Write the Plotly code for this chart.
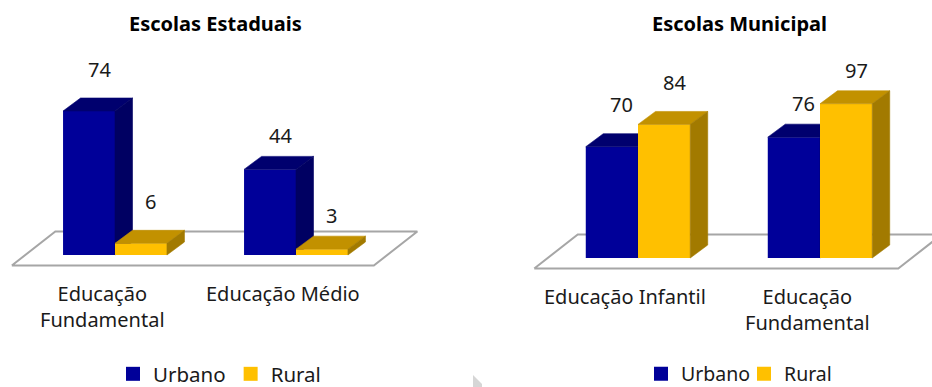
import plotly.graph_objects as go

# ---- data -------------------------------------------------------------
series = ["Urbano", "Rural"]

estaduais_categorias = ["Educação<br>Fundamental", "Educação Médio"]
estaduais_urbano = [74, 44]
estaduais_rural = [6, 3]

municipal_categorias = ["Educação Infantil", "Educação<br>Fundamental"]
municipal_urbano = [70, 76]
municipal_rural = [84, 97]

# ---- style ------------------------------------------------------------
W, H = 932, 387
FONT = "Noto Sans"
CORES = {
    "Urbano": {"frente": "#000099", "topo": "#00006E", "lado": "#000062"},
    "Rural": {"frente": "#FFC000", "topo": "#C29100", "lado": "#A27A00"},
}
BAR_W = 0.287          # bar width in category units
DEPTH_PX = (17.5, 13)  # 3-D depth of each bar, pixels (right, up)
FLOOR_X = (-0.57, 1.43)
FLOOR_FRONT_PX = -10.5
FLOOR_DEPTH_PX = (43.5, 34)
FLOOR_COLOR = "#A6A6A6"

# subplot geometry: horizontal domain (px), category-0 pixel, category spacing,
# baseline pixel (from top) and pixels per value unit
PAINEIS = [
    dict(ax="", titulo="Escolas Estaduais", cats=estaduais_categorias,
         valores=[estaduais_urbano, estaduais_rural], dom=(0, 466),
         c0=115, passo=181, base=255, k=1.946, titulo_x=215,
         legenda="legend"),
    dict(ax="2", titulo="Escolas Municipal", cats=municipal_categorias,
         valores=[municipal_urbano, municipal_rural], dom=(466, 932),
         c0=638, passo=182, base=258, k=1.59, titulo_x=739,
         legenda="legend2"),
]

fig = go.Figure()
annotations = []
layout_axes = {}


def polygon_trace(xs, ys, fill, ax, z, line_color=None, line_width=0.6):
    return go.Scatter(
        x=xs, y=ys, mode="lines", fill="toself", fillcolor=fill,
        line=dict(color=line_color or fill, width=line_width),
        xaxis="x" + ax, yaxis="y" + ax, hoverinfo="skip",
        showlegend=False, zorder=z,
    )


for p in PAINEIS:
    ax = p["ax"]
    d0, d1 = p["dom"]
    xr = [(d0 - p["c0"]) / p["passo"], (d1 - p["c0"]) / p["passo"]]
    yr = [(p["base"] - H) / p["k"], p["base"] / p["k"]]
    dx = DEPTH_PX[0] / p["passo"]
    dy = DEPTH_PX[1] / p["k"]

    layout_axes["xaxis" + ax] = dict(domain=[d0 / W, d1 / W], range=xr,
                                     visible=False, fixedrange=True,
                                     anchor="y" + ax)
    layout_axes["yaxis" + ax] = dict(domain=[0, 1], range=yr, visible=False,
                                     fixedrange=True, anchor="x" + ax)

    # floor
    fy0 = FLOOR_FRONT_PX / p["k"]
    fdx = FLOOR_DEPTH_PX[0] / p["passo"]
    fdy = FLOOR_DEPTH_PX[1] / p["k"]
    fx0, fx1 = FLOOR_X
    fig.add_trace(polygon_trace(
        [fx0, fx1, fx1 + fdx, fx0 + fdx, fx0],
        [fy0, fy0, fy0 + fdy, fy0 + fdy, fy0],
        "white", ax, 0, line_color=FLOOR_COLOR, line_width=2))

    # bars: front face as a bar, top and side faces as polygons
    for s_i, nome in enumerate(series):
        vals = p["valores"][s_i]
        cores = CORES[nome]
        off = -BAR_W if s_i == 0 else 0
        z = 1 + s_i
        pos = list(range(len(vals)))
        fig.add_trace(go.Bar(
            x=pos, y=vals, width=BAR_W, offset=off, name=nome,
            marker=dict(color=cores["frente"], line=dict(width=0)),
            xaxis="x" + ax, yaxis="y" + ax, showlegend=False,
            hoverinfo="skip", zorder=z))
        tx, ty, sx, sy = [], [], [], []
        for i, v in enumerate(vals):
            x0 = i + off
            x1 = x0 + BAR_W
            tx += [x0, x1, x1 + dx, x0 + dx, x0, None]
            ty += [v, v, v + dy, v + dy, v, None]
            sx += [x1, x1 + dx, x1 + dx, x1, x1, None]
            sy += [0, dy, v + dy, v, 0, None]
            # value label
            annotations.append(dict(
                x=i + off + BAR_W / 2, y=v, xref="x" + ax, yref="y" + ax,
                text=str(v), showarrow=False, xshift=10, xanchor="center",
                yshift=42 - 8.5 * i, yanchor="middle",
                font=dict(family=FONT, size=20, color="#1a1a1a")))
        fig.add_trace(polygon_trace(tx, ty, cores["topo"], ax, z))
        fig.add_trace(polygon_trace(sx, sy, cores["lado"], ax, z))

        # legend entry
        fig.add_trace(go.Scatter(
            x=[None], y=[None], mode="markers", name=nome,
            marker=dict(symbol="square", size=14, color=cores["frente"]),
            xaxis="x" + ax, yaxis="y" + ax, legend=p["legenda"]))

    # category labels
    for i, cat in enumerate(p["cats"]):
        annotations.append(dict(
            x=i, y=0, xref="x" + ax, yref="y" + ax, text=cat,
            showarrow=False, xshift=-13, yshift=-23, yanchor="top",
            xanchor="center",
            font=dict(family=FONT, size=20, color="#1a1a1a")))

    # panel title
    annotations.append(dict(
        x=p["titulo_x"] / W, y=1 - 23 / H, xref="paper", yref="paper",
        text="<b>" + p["titulo"] + "</b>", showarrow=False,
        xanchor="center", yanchor="middle",
        font=dict(family=FONT, size=20, color="black")))

legend_common = dict(orientation="h", xanchor="left", yanchor="middle",
                     bgcolor="rgba(0,0,0,0)", itemclick=False,
                     itemdoubleclick=False)

fig.update_layout(
    width=W, height=H,
    margin=dict(l=0, r=0, t=0, b=0, autoexpand=False),
    paper_bgcolor="white", plot_bgcolor="white",
    barmode="overlay",
    annotations=annotations,
    legend=dict(x=113 / W, y=1 - 374 / H,
                font=dict(family=FONT, size=20.5, color="#1a1a1a"),
                **legend_common),
    legend2=dict(x=641 / W, y=1 - 374 / H, entrywidthmode="pixels",
                 entrywidth=58,
                 font=dict(family=FONT, size=19.5, color="#1a1a1a"),
                 **legend_common),
    shapes=[dict(type="path", xref="paper", yref="paper",
                 path=f"M {473 / W} {1 - 375 / H} L {482 / W} {1 - 384 / H} "
                      f"L {482 / W} {0} L {473 / W} {0} Z",
                 fillcolor="#D6D6D6", line=dict(width=0))],
    **layout_axes,
)

fig.write_html("out.html")
